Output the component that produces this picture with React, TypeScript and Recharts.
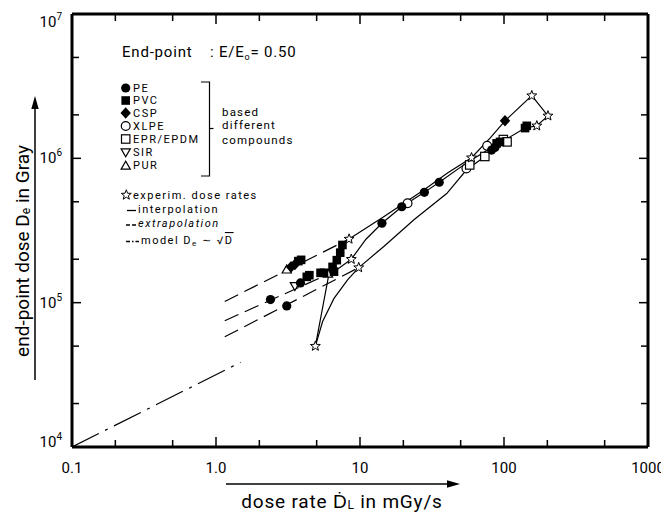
import React from 'react';
import { ComposedChart, Scatter, XAxis, YAxis } from 'recharts';

type P = { x: number; y: number };

// ---------- axis ticks ----------
const xTicks = [0.1, 0.2, 0.5, 1, 2, 5, 10, 20, 50, 100, 200, 500, 1000];
const xTickLabels: Record<string, string> = { '0.1': '0.1', '1': '1.0', '10': '10', '100': '100', '1000': '1000' };
const yTicks = [1e4, 2e4, 5e4, 1e5, 2e5, 5e5, 1e6, 2e6, 5e6, 1e7];
const yTickExponents: Record<string, string> = { '10000': '4', '100000': '5', '1000000': '6', '10000000': '7' };

// ---------- marker series ----------
const pePoints: P[] = [
  { x: 2.39, y: 1.05e5 }, { x: 3.1, y: 9.5e4 }, { x: 3.86, y: 1.37e5 },
  { x: 14.2, y: 3.55e5 }, { x: 19.5, y: 4.62e5 }, { x: 28.0, y: 5.81e5 }, { x: 35.5, y: 6.83e5 },
  { x: 82, y: 1.14e6 }, { x: 86.5, y: 1.19e6 },
];
const pvcPoints: P[] = [
  { x: 3.73, y: 1.94e5 }, { x: 3.9, y: 1.98e5 }, { x: 4.27, y: 1.51e5 }, { x: 4.45, y: 1.55e5 },
  { x: 5.32, y: 1.61e5 }, { x: 5.62, y: 1.61e5 }, { x: 6.45, y: 1.77e5 }, { x: 6.6, y: 1.64e5 },
  { x: 6.9, y: 1.97e5 }, { x: 7.29, y: 2.22e5 }, { x: 7.55, y: 2.51e5 },
  { x: 88.9, y: 1.27e6 }, { x: 93.8, y: 1.3e6 }, { x: 140, y: 1.62e6 }, { x: 144, y: 1.68e6 },
];
const cspPoints: P[] = [
  { x: 3.32, y: 1.77e5 }, { x: 3.53, y: 1.84e5 }, { x: 101.6, y: 1.82e6 },
];
const xlpePoints: P[] = [
  { x: 21.4, y: 4.88e5 }, { x: 54.8, y: 8.5e5 }, { x: 76.4, y: 1.22e6 },
];
const eprPoints: P[] = [
  { x: 57.8, y: 9.0e5 }, { x: 73.6, y: 1.03e6 }, { x: 98.9, y: 1.35e6 }, { x: 105, y: 1.3e6 },
];
const sirPoints: P[] = [{ x: 3.53, y: 1.3e5 }];
const purPoints: P[] = [{ x: 3.1, y: 1.7e5 }, { x: 6.0, y: 1.59e5 }];
const starPoints: P[] = [
  { x: 8.4, y: 2.76e5 }, { x: 8.7, y: 2.0e5 }, { x: 9.8, y: 1.75e5 }, { x: 4.9, y: 5.0e4 },
  { x: 59.5, y: 1.01e6 }, { x: 156, y: 2.72e6 }, { x: 202, y: 1.97e6 }, { x: 169, y: 1.68e6 },
];

// ---------- interpolation (solid) ----------
const interpUpper: P[] = [
  { x: 8.4, y: 2.76e5 }, { x: 14.7, y: 3.96e5 }, { x: 27.9, y: 6.06e5 }, { x: 40.5, y: 7.9e5 },
  { x: 59.5, y: 1.01e6 }, { x: 80, y: 1.38e6 }, { x: 101.6, y: 1.82e6 }, { x: 156, y: 2.72e6 },
  { x: 202, y: 1.97e6 },
];
const interpMiddle: P[] = [
  { x: 8.7, y: 2.0e5 }, { x: 11, y: 2.75e5 }, { x: 14.2, y: 3.55e5 }, { x: 19.5, y: 4.62e5 },
  { x: 28.0, y: 5.81e5 }, { x: 35.5, y: 6.83e5 }, { x: 55, y: 9.3e5 }, { x: 80, y: 1.17e6 },
  { x: 100, y: 1.33e6 }, { x: 140, y: 1.62e6 }, { x: 169, y: 1.68e6 }, { x: 202, y: 1.97e6 },
];
const interpLower: P[] = [
  { x: 9.8, y: 1.75e5 }, { x: 14.7, y: 2.46e5 }, { x: 23.8, y: 3.77e5 }, { x: 40, y: 5.7e5 },
  { x: 54.8, y: 8.3e5 }, { x: 73.6, y: 1.03e6 }, { x: 95, y: 1.22e6 },
];
const interpSteep: P[] = [
  { x: 4.9, y: 5.0e4 }, { x: 6.1, y: 1.6e5 }, { x: 6.6, y: 1.64e5 }, { x: 8.7, y: 2.0e5 },
];
const interpCurve: P[] = [
  { x: 4.9, y: 5.0e4 }, { x: 5.5, y: 7.4e4 }, { x: 6.6, y: 1.07e5 }, { x: 8.2, y: 1.44e5 }, { x: 9.8, y: 1.75e5 },
];

// ---------- extrapolation (dashed) ----------
const extrapUpper: P[] = [{ x: 1.15, y: 1.02e5 }, { x: 8.4, y: 2.76e5 }];
const extrapMiddle: P[] = [{ x: 1.15, y: 7.5e4 }, { x: 6.6, y: 1.64e5 }];
const extrapLower: P[] = [{ x: 1.15, y: 5.8e4 }, { x: 9.8, y: 1.75e5 }];

// ---------- model De ~ sqrt(D) (dash-dot) ----------
const modelLine: P[] = [{ x: 0.1, y: 1e4 }, { x: 1.48, y: 3.86e4 }];

const FONT = 'Roboto, "Liberation Sans", sans-serif';

// ---------- marker shapes ----------
function starPath(cx: number, cy: number, R: number, r: number) {
  let d = '';
  for (let i = 0; i < 10; i++) {
    const a = -Math.PI / 2 + (i * Math.PI) / 5;
    const rad = i % 2 === 0 ? R : r;
    d += (i === 0 ? 'M' : 'L') + (cx + rad * Math.cos(a)).toFixed(2) + ',' + (cy + rad * Math.sin(a)).toFixed(2);
  }
  return d + 'Z';
}

const Marker = ({ kind, cx, cy }: { kind: string; cx: number; cy: number }) => {
  if (cx == null || cy == null) return <g />;
  switch (kind) {
    case 'pe':
      return <circle cx={cx} cy={cy} r={4.6} fill="#000" />;
    case 'pvc':
      return <rect x={cx - 4.3} y={cy - 4.3} width={8.6} height={8.6} fill="#000" />;
    case 'csp':
      return <path d={`M${cx},${cy - 5.8}L${cx + 5.2},${cy}L${cx},${cy + 5.8}L${cx - 5.2},${cy}Z`} fill="#000" />;
    case 'xlpe':
      return <circle cx={cx} cy={cy} r={4.4} fill="#fff" stroke="#000" strokeWidth={1.2} />;
    case 'epr':
      return <rect x={cx - 4.2} y={cy - 4.2} width={8.4} height={8.4} fill="#fff" stroke="#000" strokeWidth={1.2} />;
    case 'sir':
      return <path d={`M${cx - 4.6},${cy - 3.6}L${cx + 4.6},${cy - 3.6}L${cx},${cy + 4.4}Z`} fill="#fff" stroke="#000" strokeWidth={1.2} />;
    case 'pur':
      return <path d={`M${cx - 4.6},${cy + 3.6}L${cx + 4.6},${cy + 3.6}L${cx},${cy - 4.4}Z`} fill="#fff" stroke="#000" strokeWidth={1.2} />;
    case 'star':
      return <path d={starPath(cx, cy, 5.2, 2.2)} fill="#fff" stroke="#000" strokeWidth={1} />;
    default:
      return <g />;
  }
};

const shapeOf = (kind: string) => (p: any) => <Marker kind={kind} cx={p.cx} cy={p.cy} />;
const Empty = () => <g />;

// ---------- tick renderers ----------
const isMajorX = (v: number) => xTickLabels[String(v)] !== undefined;
const isMajorY = (v: number) => yTickExponents[String(v)] !== undefined;

const BottomTick = (props: any) => {
  const { x, y, payload } = props;
  const v = payload.value;
  const major = isMajorX(v);
  return (
    <g>
      <line x1={x} x2={x} y1={y} y2={y - (major ? 10 : 7)} stroke="#000" strokeWidth={1.5} />
      {major && (
        <text x={x} y={y + 21} textAnchor="middle" dominantBaseline="central" fontSize={15} fontFamily={FONT} fill="#000">
          {xTickLabels[String(v)]}
        </text>
      )}
    </g>
  );
};
const TopTick = (props: any) => {
  const { x, y, payload } = props;
  const major = isMajorX(payload.value);
  return <line x1={x} x2={x} y1={y} y2={y + (major ? 10 : 7)} stroke="#000" strokeWidth={1.5} />;
};
const LeftTick = (props: any) => {
  const { x, y, payload } = props;
  const v = payload.value;
  const major = isMajorY(v);
  const exp = yTickExponents[String(v)];
  let dy = 0;
  if (v === 1e7) dy = 8;
  if (v === 1e4) dy = -5;
  return (
    <g>
      <line x1={x} x2={x + (major ? 9 : 7)} y1={y} y2={y} stroke="#000" strokeWidth={1.5} />
      {major && (
        <text x={x - 10} y={y + dy + 5} textAnchor="end" fontSize={15} fontFamily={FONT} fill="#000">
          10<tspan dy={-7} fontSize={10}>{exp}</tspan>
        </text>
      )}
    </g>
  );
};
const RightTick = (props: any) => {
  const { x, y, payload } = props;
  const major = isMajorY(payload.value);
  return <line x1={x} x2={x - (major ? 9 : 7)} y1={y} y2={y} stroke="#000" strokeWidth={1.5} />;
};

const axisLine = { stroke: '#000', strokeWidth: 3 };
const solid = { stroke: '#000', strokeWidth: 1.2 };
const dashed = { stroke: '#000', strokeWidth: 1.2, strokeDasharray: '15 7' };
const dashDot = { stroke: '#000', strokeWidth: 1.2, strokeDasharray: '30 7 3 7' };

const W = 661;
const H = 504;

const legendRows: { kind: string; label: string; y: number }[] = [
  { kind: 'pe', label: 'PE', y: 80 },
  { kind: 'pvc', label: 'PVC', y: 92.5 },
  { kind: 'csp', label: 'CSP', y: 105 },
  { kind: 'xlpe', label: 'XLPE', y: 118 },
  { kind: 'epr', label: 'EPR/EPDM', y: 131 },
  { kind: 'sir', label: 'SIR', y: 144.5 },
  { kind: 'pur', label: 'PUR', y: 157.5 },
];

const LS = 1.5;

const Overlay = () => (
  <svg width={W} height={H} style={{ position: 'absolute', left: 0, top: 0, pointerEvents: 'none', overflow: 'visible' }}>
    <g fontFamily={FONT} fill="#000">
      <text x={114} y={49} fontSize={15} letterSpacing={0.8}>End-point</text>
      <text x={202} y={49} fontSize={15} letterSpacing={0.8}>
        : E/E<tspan dy={3} fontSize={9}>o</tspan><tspan dy={-3}>= 0.50</tspan>
      </text>
      {legendRows.map((r) => (
        <g key={r.label}>
          <Marker kind={r.kind} cx={117.7} cy={r.y} />
          <text x={125} y={r.y} dominantBaseline="central" fontSize={11} letterSpacing={LS}>{r.label}</text>
        </g>
      ))}
      <path d="M193,74L201.5,74L201.5,168L193,168" fill="none" stroke="#000" strokeWidth={1.2} />
      <line x1={201.5} x2={205.5} y1={120.5} y2={120.5} stroke="#000" strokeWidth={1.2} />
      <text x={214} y={103.5} dominantBaseline="central" fontSize={11.5} letterSpacing={1.2}>based</text>
      <text x={214} y={117} dominantBaseline="central" fontSize={11.5} letterSpacing={1.2}>different</text>
      <text x={214} y={132} dominantBaseline="central" fontSize={11.5} letterSpacing={1.2}>compounds</text>

      <Marker kind="star" cx={118.3} cy={187} />
      <text x={125} y={187} dominantBaseline="central" fontSize={11} letterSpacing={LS}>experim. dose rates</text>
      <line x1={119} x2={128} y1={202.5} y2={202.5} stroke="#000" strokeWidth={1.3} />
      <text x={130} y={201.5} dominantBaseline="central" fontSize={11} letterSpacing={LS}>interpolation</text>
      <line x1={118} x2={128} y1={217} y2={217} stroke="#000" strokeWidth={1.3} strokeDasharray="4 2" />
      <text x={130} y={215.5} dominantBaseline="central" fontSize={11} letterSpacing={LS} fontStyle="italic">extrapolation</text>
      <line x1={118} x2={131} y1={233.5} y2={233.5} stroke="#000" strokeWidth={1.3} strokeDasharray="4 2 1.5 2" />
      <text x={133} y={232} dominantBaseline="central" fontSize={11} letterSpacing={LS}>
        model D<tspan dy={3} fontSize={8}>e</tspan><tspan dy={-3}> ∼ √</tspan><tspan textDecoration="overline">D</tspan>
      </text>

      {/* x axis title + arrow */}
      <line x1={218} x2={442} y1={476} y2={476} stroke="#000" strokeWidth={1.5} />
      <path d="M452,476L439,472.3L439,479.7Z" fill="#000" />
      <text x={334} y={493} textAnchor="middle" dominantBaseline="central" fontSize={19} letterSpacing={0.8}>
        dose rate Ḋ<tspan dy={4} fontSize={12}>L</tspan><tspan dy={-4}> in mGy/s</tspan>
      </text>

      {/* y axis title + arrow */}
      <line x1={27} x2={27} y1={372} y2={100} stroke="#000" strokeWidth={1.5} />
      <path d="M27,88L23.3,101L30.7,101Z" fill="#000" />
      <text x={0} y={0} transform="translate(14,243) rotate(-90)" textAnchor="middle" dominantBaseline="central" fontSize={19}>
        end-point dose D<tspan dy={4} fontSize={12}>e</tspan><tspan dy={-4}> in Gray</tspan>
      </text>
    </g>
  </svg>
);

export default function App() {
  return (
    <div style={{ position: 'relative', width: W, height: H, background: '#fff' }}>
      <style>{'.recharts-surface{overflow:visible}'}</style>
      <ComposedChart width={W} height={H} margin={{ top: 5, right: 20, bottom: 64, left: 63 }}>
        <XAxis
          xAxisId="bottom" dataKey="x" type="number" scale="log" domain={[0.1, 1000]} allowDataOverflow
          ticks={xTicks} interval={0} height={1} tickSize={0} tickMargin={0}
          axisLine={axisLine} tickLine={false} tick={<BottomTick />} orientation="bottom"
        />
        <XAxis
          xAxisId="top" dataKey="x" type="number" scale="log" domain={[0.1, 1000]} allowDataOverflow
          ticks={xTicks} interval={0} height={1} tickSize={0} tickMargin={0}
          axisLine={axisLine} tickLine={false} tick={<TopTick />} orientation="top"
        />
        <YAxis
          yAxisId="left" dataKey="y" type="number" scale="log" domain={[1e4, 1e7]} allowDataOverflow
          ticks={yTicks} interval={0} width={1} tickSize={0} tickMargin={0}
          axisLine={axisLine} tickLine={false} tick={<LeftTick />} orientation="left"
        />
        <YAxis
          yAxisId="right" dataKey="y" type="number" scale="log" domain={[1e4, 1e7]} allowDataOverflow
          ticks={yTicks} interval={0} width={1} tickSize={0} tickMargin={0}
          axisLine={axisLine} tickLine={false} tick={<RightTick />} orientation="right"
        />

        <Scatter xAxisId="bottom" yAxisId="left" data={modelLine} line={dashDot} shape={Empty} isAnimationActive={false} />
        <Scatter xAxisId="bottom" yAxisId="left" data={extrapUpper} line={dashed} shape={Empty} isAnimationActive={false} />
        <Scatter xAxisId="bottom" yAxisId="left" data={extrapMiddle} line={dashed} shape={Empty} isAnimationActive={false} />
        <Scatter xAxisId="bottom" yAxisId="left" data={extrapLower} line={dashed} shape={Empty} isAnimationActive={false} />
        <Scatter xAxisId="bottom" yAxisId="left" data={interpUpper} line={solid} shape={Empty} isAnimationActive={false} />
        <Scatter xAxisId="bottom" yAxisId="left" data={interpMiddle} line={solid} shape={Empty} isAnimationActive={false} />
        <Scatter xAxisId="bottom" yAxisId="left" data={interpLower} line={solid} shape={Empty} isAnimationActive={false} />
        <Scatter xAxisId="bottom" yAxisId="left" data={interpSteep} line={solid} shape={Empty} isAnimationActive={false} />
        <Scatter xAxisId="bottom" yAxisId="left" data={interpCurve} line={solid} shape={Empty} isAnimationActive={false} />

        <Scatter xAxisId="bottom" yAxisId="left" data={xlpePoints} shape={shapeOf('xlpe')} isAnimationActive={false} />
        <Scatter xAxisId="bottom" yAxisId="left" data={eprPoints} shape={shapeOf('epr')} isAnimationActive={false} />
        <Scatter xAxisId="bottom" yAxisId="left" data={sirPoints} shape={shapeOf('sir')} isAnimationActive={false} />
        <Scatter xAxisId="bottom" yAxisId="left" data={purPoints} shape={shapeOf('pur')} isAnimationActive={false} />
        <Scatter xAxisId="bottom" yAxisId="left" data={pePoints} shape={shapeOf('pe')} isAnimationActive={false} />
        <Scatter xAxisId="bottom" yAxisId="left" data={pvcPoints} shape={shapeOf('pvc')} isAnimationActive={false} />
        <Scatter xAxisId="bottom" yAxisId="left" data={cspPoints} shape={shapeOf('csp')} isAnimationActive={false} />
        <Scatter xAxisId="bottom" yAxisId="left" data={starPoints} shape={shapeOf('star')} isAnimationActive={false} />
      </ComposedChart>
      <Overlay />
    </div>
  );
}
